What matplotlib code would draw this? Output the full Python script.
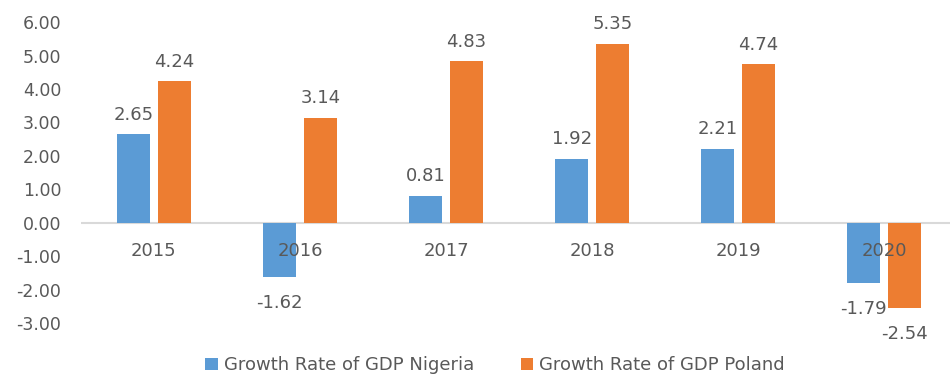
import numpy as np
import matplotlib.pyplot as plt

years = ['2015', '2016', '2017', '2018', '2019', '2020']
nigeria = [2.65, -1.62, 0.81, 1.92, 2.21, -1.79]
poland = [4.24, 3.14, 4.83, 5.35, 4.74, -2.54]
yticks = [-3, -2, -1, 0, 1, 2, 3, 4, 5, 6]

blue = '#5B9BD5'
orange = '#ED7D31'
grey = '#595959'

plt.rcParams['font.family'] = ['DejaVu Sans']

fig = plt.figure(figsize=(9.5, 3.81), dpi=100)
ax = fig.add_axes([0.085, 0.152, 0.915, 0.79])

x = np.arange(len(years))
w = 0.226
off = 0.14
b1 = ax.bar(x - off, nigeria, w, color=blue, label='Growth Rate of GDP Nigeria', zorder=2)
b2 = ax.bar(x + off, poland, w, color=orange, label='Growth Rate of GDP Poland', zorder=2)

# value labels: above positive bars, below negative ones
for bars, vals in [(b1, nigeria), (b2, poland)]:
    for rect, v in zip(bars, vals):
        cx = rect.get_x() + rect.get_width() / 2
        dy = 14 if v >= 0 else -19
        ax.annotate('%.2f' % v, (cx, v), xytext=(0, dy), textcoords='offset points',
                    ha='center', va='center', fontsize=13, color=grey)

ax.axhline(0, color='#D9D9D9', lw=1.5, zorder=1)

# year labels sit just under the zero line, over the bars
for xi, yr in zip(x, years):
    ax.text(xi, -0.85, yr, ha='center', va='center', fontsize=13, color=grey, zorder=3)

ax.set_xlim(-0.5, 5.45)
ax.set_ylim(-3, 6)
ax.set_xticks([])
ax.set_yticks(yticks)
ax.set_yticklabels(['%.2f' % t for t in yticks], fontsize=12.5, color=grey)
ax.tick_params(axis='y', length=0, pad=14)
for s in ax.spines.values():
    s.set_visible(False)

fig.legend(loc='lower center', ncol=2, frameon=False, fontsize=13,
           handlelength=0.7, handleheight=0.7, handletextpad=0.3, columnspacing=2.6,
           bbox_to_anchor=(0.521, -0.025), labelcolor=grey)

fig.savefig('out.png', dpi=100)
